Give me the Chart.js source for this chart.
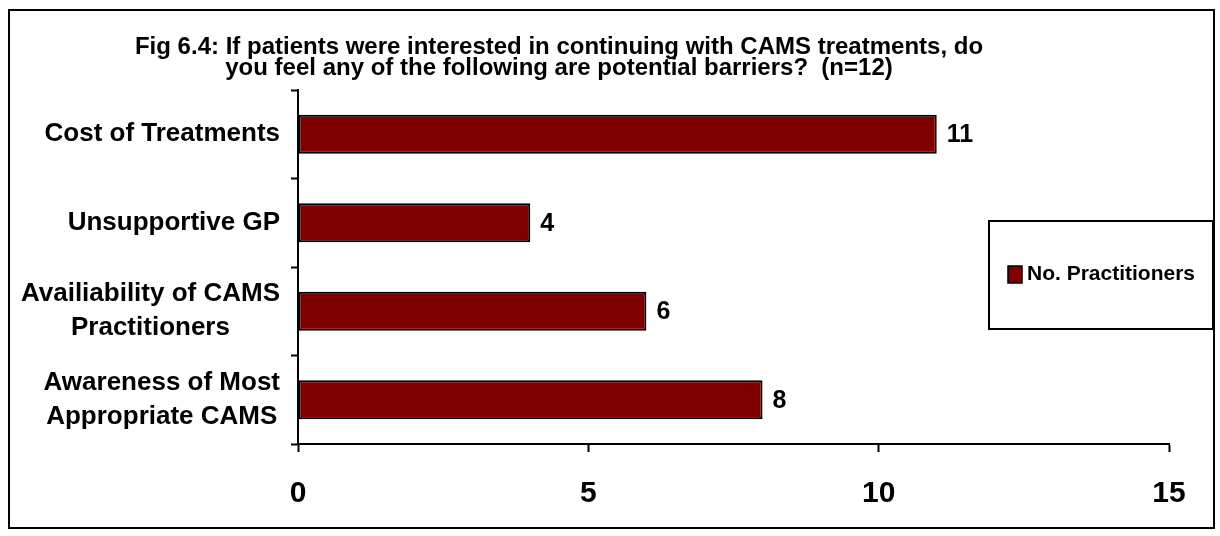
<!DOCTYPE html>
<html>
<head>
<meta charset="utf-8">
<script src="https://cdn.jsdelivr.net/npm/chart.js@4"></script>
<style>
  html, body { margin: 0; padding: 0; background: #fff; }
  #wrap { width: 1220px; height: 536px; position: relative; }
</style>
</head>
<body>
<div id="wrap"><canvas id="barChart" width="1220" height="536"></canvas></div>
<script>
// Chart data
const categories = [
    'Cost of Treatments',
    'Unsupportive GP',
    ['Availiability of CAMS', 'Practitioners'],
    ['Awareness of Most', 'Appropriate CAMS']
];
const practitioners = [11, 4, 6, 8];
const seriesName = 'No. Practitioners';
const xTicks = [0, 5, 10, 15];
const titleLines = [
    'Fig 6.4: If patients were interested in continuing with CAMS treatments, do',
    'you feel any of the following are potential barriers?  (n=12)'
];

const FONT = '"Liberation Sans", Arial, sans-serif';
const BAR_RED = '#800000';

// Outer frame + title drawn on the canvas
const framePlugin = {
    id: 'frame',
    beforeDraw(chart) {
        const ctx = chart.ctx;
        ctx.save();
        ctx.fillStyle = '#fff';
        ctx.fillRect(0, 0, chart.width, chart.height);
        ctx.strokeStyle = '#000';
        ctx.lineWidth = 2;
        ctx.strokeRect(9, 10, 1205, 518);
        ctx.restore();
    },
    afterDraw(chart) {
        const ctx = chart.ctx;
        ctx.save();
        ctx.fillStyle = '#000';
        ctx.font = 'bold 24px ' + FONT;
        ctx.textAlign = 'center';
        ctx.textBaseline = 'alphabetic';
        titleLines.forEach((line, i) => {
            ctx.fillText(line, 559, 54 + i * 21);
        });
        ctx.restore();
    }
};

// Category labels: block right-aligned to the axis, lines centred inside the block
const categoryLabels = {
    id: 'categoryLabels',
    afterDraw(chart) {
        const ctx = chart.ctx;
        const yScale = chart.scales.y;
        const right = yScale.right - 18;
        const lineGap = 34;
        ctx.save();
        ctx.fillStyle = '#000';
        ctx.font = 'bold 26px ' + FONT;
        ctx.textAlign = 'center';
        ctx.textBaseline = 'middle';
        chart.data.labels.forEach((label, i) => {
            const lines = Array.isArray(label) ? label : [label];
            const blockW = Math.max(...lines.map(l => ctx.measureText(l).width));
            const cx = right - blockW / 2;
            const cy = yScale.getPixelForValue(i);
            const y0 = cy - (lines.length - 1) * lineGap / 2;
            lines.forEach((l, j) => ctx.fillText(l, cx, y0 + j * lineGap));
        });
        ctx.restore();
    }
};

// Value labels at the end of each bar
const valueLabels = {
    id: 'valueLabels',
    afterDatasetsDraw(chart) {
        const ctx = chart.ctx;
        const meta = chart.getDatasetMeta(0);
        ctx.save();
        ctx.fillStyle = '#000';
        ctx.font = 'bold 25px ' + FONT;
        ctx.textAlign = 'left';
        ctx.textBaseline = 'middle';
        meta.data.forEach((bar, i) => {
            ctx.fillText(String(chart.data.datasets[0].data[i]), bar.x + 10, bar.y + 1);
        });
        ctx.restore();
    }
};

// Boxed legend on the right
const boxLegend = {
    id: 'boxLegend',
    afterDraw(chart) {
        const ctx = chart.ctx;
        const ds = chart.data.datasets[0];
        ctx.save();
        ctx.fillStyle = '#fff';
        ctx.fillRect(989, 221, 224, 108);
        ctx.strokeStyle = '#000';
        ctx.lineWidth = 2;
        ctx.strokeRect(989, 221, 224, 108);
        ctx.fillStyle = ds.backgroundColor;
        ctx.fillRect(1008, 266, 14, 17);
        ctx.lineWidth = 1.5;
        ctx.strokeRect(1008, 266, 14, 17);
        ctx.fillStyle = '#000';
        ctx.font = 'bold 21px ' + FONT;
        ctx.textAlign = 'left';
        ctx.textBaseline = 'middle';
        ctx.fillText(ds.label, 1027, 274);
        ctx.restore();
    }
};

function initChart() {
    const el = document.getElementById('barChart');
    new Chart(el, {
        type: 'bar',
        data: {
            labels: categories,
            datasets: [{
                label: seriesName,
                data: practitioners,
                backgroundColor: BAR_RED,
                borderColor: '#000',
                borderWidth: 2,
                borderSkipped: false,
                categoryPercentage: 1.0,
                barPercentage: 0.44
            }]
        },
        options: {
            indexAxis: 'y',
            responsive: false,
            animation: false,
            layout: {
                padding: { top: 90, right: 51, bottom: 0, left: 10 }
            },
            plugins: {
                legend: { display: false },
                title: { display: false },
                tooltip: { enabled: false }
            },
            scales: {
                x: {
                    min: 0,
                    max: 15,
                    afterBuildTicks: (axis) => {
                        axis.ticks = xTicks.map(v => ({ value: v }));
                    },
                    border: { color: '#000', width: 2 },
                    grid: {
                        drawOnChartArea: false,
                        drawTicks: true,
                        tickLength: 8,
                        tickWidth: 2,
                        color: '#000'
                    },
                    ticks: {
                        color: '#000',
                        padding: 24,
                        font: { family: FONT, size: 30, weight: 'bold' }
                    }
                },
                y: {
                    afterFit: (scale) => { scale.width = 288; },
                    border: { color: '#000', width: 2 },
                    grid: {
                        offset: true,
                        drawOnChartArea: false,
                        drawTicks: true,
                        tickLength: 7,
                        tickWidth: 2,
                        color: '#000'
                    },
                    ticks: { display: false }
                }
            }
        },
        plugins: [framePlugin, categoryLabels, valueLabels, boxLegend]
    });
}

document.addEventListener('DOMContentLoaded', initChart);
</script>
</body>
</html>
